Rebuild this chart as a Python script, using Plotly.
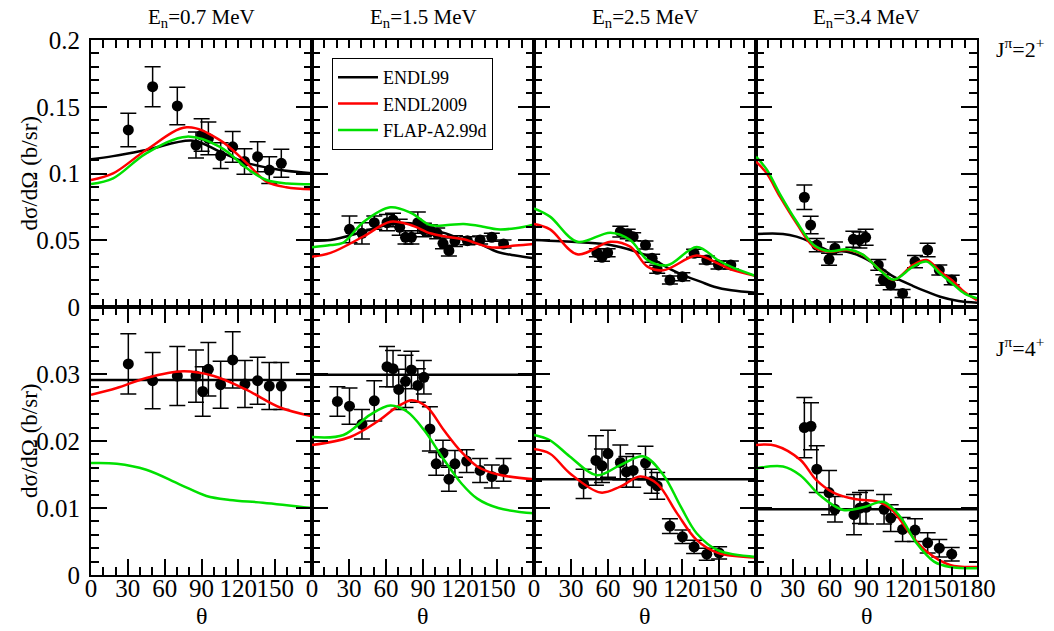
import plotly.graph_objects as go

# ---------------- data ----------------
energies = ["0.7", "1.5", "2.5", "3.4"]
legend_names = ["ENDL99", "ENDL2009", "FLAP-A2.99d"]

# ---- J=2+ (top row) ----
# panel 1 : 0.7 MeV
p1_exp_ang = [30.4, 50.2, 70.3, 85.5, 90.1, 95.6, 105.6, 115.4, 125, 135.7, 145.2, 155]
p1_exp_val = [0.1326, 0.165, 0.1506, 0.1213, 0.1288, 0.1263, 0.1134, 0.120, 0.109, 0.1126, 0.1026, 0.1076]
p1_exp_err = [0.0125, 0.015, 0.014, 0.0097, 0.0122, 0.0122, 0.0097, 0.0115, 0.0096, 0.0112, 0.010, 0.0105]
p1_b_ang = [0, 18, 45, 83, 105, 127, 152, 180]
p1_b_val = [0.1106, 0.1130, 0.1176, 0.1246, 0.1163, 0.108, 0.103, 0.1001]
p1_r_ang = [0, 18, 45, 78, 105, 127, 143, 159, 180]
p1_r_val = [0.0951, 0.1001, 0.1176, 0.1346, 0.125, 0.1076, 0.0939, 0.0897, 0.0882]
p1_g_ang = [0, 18, 45, 78, 105, 127, 143, 160, 180]
p1_g_val = [0.0921, 0.0964, 0.1151, 0.1276, 0.120, 0.1039, 0.0951, 0.0925, 0.0919]

# panel 2 : 1.5 MeV
p2_exp_ang = [30.4, 40.5, 50.5, 60.8, 65.7, 71.1, 75.8, 80.6, 85.8, 90.7, 95.6, 101.5, 106.2, 111.0, 115.9, 126, 136.3, 145.8, 155.3]
p2_exp_val = [0.0582, 0.0552, 0.0632, 0.0632, 0.0652, 0.0597, 0.0522, 0.0522, 0.0632, 0.0577, 0.0577, 0.0552, 0.0477, 0.0422, 0.0494, 0.0497, 0.0502, 0.0522, 0.0472]
p2_exp_err = [0.010, 0.008, 0.005, 0.006, 0.005, 0.006, 0.005, 0.005, 0.008, 0.005, 0.004, 0.004, 0.004, 0.004, 0.004, 0.003, 0.003, 0.003, 0.003]
p2_b_ang = [0, 15, 42, 63, 80, 96, 107, 123, 134, 150, 165, 180]
p2_b_val = [0.0497, 0.0502, 0.0565, 0.062, 0.0627, 0.0577, 0.0555, 0.0502, 0.048, 0.0414, 0.0385, 0.0365]
p2_r_ang = [0, 15, 42, 63.5, 80, 96, 107, 123, 142, 150, 165, 180]
p2_r_val = [0.0377, 0.0405, 0.053, 0.0639, 0.0614, 0.0552, 0.053, 0.0507, 0.0452, 0.0445, 0.046, 0.0472]
p2_g_ang = [0, 15, 25, 42, 63.5, 80, 96, 110, 123, 140, 150, 165, 180]
p2_g_val = [0.0447, 0.0464, 0.048, 0.0639, 0.0747, 0.0706, 0.0614, 0.0614, 0.0622, 0.060, 0.0582, 0.059, 0.0619]

# panel 3 : 2.5 MeV
p3_exp_ang = [51.0, 55.1, 59.7, 70.0, 76.0, 80.4, 90.4, 95.8, 99.9, 110.2, 120.3, 129.8, 140.1, 149.6, 159.6]
p3_exp_val = [0.0407, 0.0372, 0.0407, 0.0564, 0.0547, 0.0527, 0.0464, 0.0365, 0.0282, 0.0202, 0.0227, 0.0402, 0.0352, 0.0315, 0.0315]
p3_exp_err = [0.003, 0.003, 0.003, 0.004, 0.0035, 0.003, 0.003, 0.003, 0.003, 0.003, 0.003, 0.003, 0.003, 0.003, 0.003]
p3_b_ang = [0, 37, 62, 90, 110, 124, 135, 146, 160, 180]
p3_b_val = [0.0502, 0.0485, 0.0465, 0.039, 0.0285, 0.0227, 0.019, 0.0152, 0.0125, 0.0107]
p3_r_ang = [0, 13, 35, 62, 78, 92, 105, 132, 149, 160, 180]
p3_r_val = [0.0622, 0.0582, 0.0395, 0.0489, 0.0452, 0.0302, 0.0275, 0.0385, 0.0327, 0.028, 0.0232]
p3_g_ang = [0, 13, 35, 62, 78, 92, 108, 132, 149, 160, 180]
p3_g_val = [0.0739, 0.0677, 0.0489, 0.0557, 0.0502, 0.0352, 0.0312, 0.0450, 0.0352, 0.030, 0.0232]

# panel 4 : 3.4 MeV
p4_exp_ang = [39.4, 44.5, 49.5, 59.5, 64.3, 79.3, 84.2, 89.3, 99.6, 103.7, 109.7, 119.4, 129.5, 139.8, 149.3, 159.4]
p4_exp_val = [0.0822, 0.0614, 0.0464, 0.0357, 0.044, 0.0507, 0.0502, 0.0522, 0.0315, 0.0202, 0.0165, 0.0102, 0.034, 0.0427, 0.0277, 0.0202]
p4_exp_err = [0.0092, 0.0065, 0.005, 0.0045, 0.0047, 0.006, 0.006, 0.006, 0.004, 0.004, 0.0035, 0.003, 0.0046, 0.005, 0.0037, 0.0035]
p4_b_ang = [0, 22, 33, 47, 60, 74, 87, 101, 112, 128, 139, 150, 165, 180]
p4_b_val = [0.0547, 0.0547, 0.0527, 0.0477, 0.042, 0.0414, 0.0372, 0.0297, 0.0227, 0.0157, 0.0115, 0.0077, 0.0045, 0.0032]
p4_r_ang = [0, 8.7, 19.5, 33, 47, 60, 74, 87, 101, 112, 128, 139, 150, 160, 170, 180]
p4_r_val = [0.1089, 0.1001, 0.0826, 0.0627, 0.0452, 0.0414, 0.0427, 0.039, 0.0277, 0.0202, 0.0315, 0.0352, 0.0265, 0.0197, 0.011, 0.0052]
p4_g_ang = [0, 8.7, 19.5, 33, 47, 60, 74, 87, 101, 112, 128, 139, 150, 160, 170, 180]
p4_g_val = [0.1126, 0.1030, 0.0845, 0.064, 0.0465, 0.0418, 0.0432, 0.0392, 0.0275, 0.0205, 0.0302, 0.034, 0.025, 0.0175, 0.010, 0.0065]

# ---- J=4+ (bottom row) ----
# panel 5 : 0.7 MeV
p5_exp_ang = [30.4, 50.2, 70.3, 85.5, 91, 95.6, 105.6, 115.4, 125.4, 135.7, 145.2, 155]
p5_exp_val = [0.0315, 0.0290, 0.0297, 0.0297, 0.0274, 0.0307, 0.0284, 0.0321, 0.0285, 0.0290, 0.0282, 0.0282]
p5_exp_err = [0.0045, 0.0042, 0.0044, 0.0039, 0.0037, 0.004, 0.0035, 0.0042, 0.0035, 0.0035, 0.0035, 0.0035]
p5_b_ang = [0, 180]
p5_b_val = [0.0291, 0.0291]
p5_r_ang = [0, 21, 45, 75, 100, 126, 154, 180]
p5_r_val = [0.0269, 0.0279, 0.0294, 0.0304, 0.0297, 0.0277, 0.025, 0.0237]
p5_g_ang = [0, 21, 45, 72.5, 94, 113, 140, 180]
p5_g_val = [0.0167, 0.0166, 0.0157, 0.0135, 0.0118, 0.0112, 0.0108, 0.0100]

# panel 6 : 1.5 MeV
p6_exp_ang = [20.6, 30.4, 40.5, 50.5, 60.8, 65.7, 70.3, 75.8, 80.6, 85.8, 90.7, 95.6, 100.7, 106.2, 111, 115.9, 125.4, 136.3, 145.8, 155.3]
p6_exp_val = [0.0259, 0.0252, 0.0225, 0.026, 0.0311, 0.0308, 0.0277, 0.0289, 0.0306, 0.0283, 0.0295, 0.0218, 0.0166, 0.0182, 0.0143, 0.0166, 0.017, 0.0156, 0.0147, 0.0157]
p6_exp_err = [0.0022, 0.0027, 0.0022, 0.003, 0.003, 0.0027, 0.003, 0.0039, 0.0028, 0.0025, 0.0025, 0.0033, 0.0017, 0.0019, 0.0018, 0.002, 0.0017, 0.0018, 0.0017, 0.0017]
p6_b_ang = [0, 180]
p6_b_val = [0.0299, 0.0299]
p6_r_ang = [0, 31, 53, 69, 81, 93, 107, 121, 134, 151, 180]
p6_r_val = [0.0194, 0.0206, 0.0229, 0.0251, 0.0261, 0.0251, 0.0216, 0.0184, 0.0162, 0.015, 0.0143]
p6_g_ang = [0, 25.5, 47, 63.5, 77, 91, 107, 121, 134, 151, 180]
p6_g_val = [0.0206, 0.0209, 0.0239, 0.0253, 0.0244, 0.0216, 0.0172, 0.0137, 0.0114, 0.0100, 0.0092]

# panel 7 : 2.5 MeV
p7_exp_ang = [40.2, 50.2, 55.1, 60, 70, 74.9, 80.4, 90.4, 95.3, 99.9, 110.2, 120.3, 129.8, 140.1, 150.1]
p7_exp_val = [0.0136, 0.0171, 0.0163, 0.0181, 0.0168, 0.0154, 0.0156, 0.0167, 0.014, 0.0133, 0.0073, 0.0057, 0.0042, 0.0031, 0.0033]
p7_exp_err = [0.0022, 0.0037, 0.0025, 0.0035, 0.0026, 0.0023, 0.0025, 0.0025, 0.0018, 0.002, 0.0011, 0.001, 0.001, 0.0009, 0.0009]
p7_b_ang = [0, 180]
p7_b_val = [0.0143, 0.0143]
p7_r_ang = [0, 13, 29, 54, 70, 86, 100, 116, 132, 149, 180]
p7_r_val = [0.0188, 0.0181, 0.0152, 0.0123, 0.0132, 0.0147, 0.0136, 0.0092, 0.0052, 0.0033, 0.0026]
p7_g_ang = [0, 13, 29, 51, 70, 89, 105, 119, 132, 149, 180]
p7_g_val = [0.0209, 0.0201, 0.0177, 0.0149, 0.0164, 0.0177, 0.0149, 0.0102, 0.0062, 0.0037, 0.0027]

# panel 8 : 3.4 MeV
p8_exp_ang = [39.4, 44.8, 49.5, 59.5, 64.3, 79.8, 84.7, 89.6, 104.3, 109.7, 119.4, 129.5, 139.8, 149.3, 159.4]
p8_exp_val = [0.022, 0.0222, 0.0158, 0.0123, 0.0098, 0.009, 0.010, 0.0101, 0.0098, 0.0085, 0.0068, 0.0067, 0.0048, 0.004, 0.0031]
p8_exp_err = [0.0045, 0.0035, 0.0035, 0.0033, 0.0019, 0.003, 0.0023, 0.0025, 0.0022, 0.002, 0.0018, 0.0017, 0.0015, 0.0013, 0.001]
p8_b_ang = [0, 180]
p8_b_val = [0.0098, 0.0098]
p8_r_ang = [0, 16, 36, 49, 63, 81.5, 100.5, 111, 125, 139, 158, 180]
p8_r_val = [0.0194, 0.0193, 0.0172, 0.0142, 0.0123, 0.0113, 0.0109, 0.0097, 0.0063, 0.0035, 0.0015, 0.0012]
p8_g_ang = [0, 22, 36, 52, 71, 87.5, 104, 117, 131, 145, 158, 180]
p8_g_val = [0.0159, 0.0162, 0.0149, 0.0119, 0.0097, 0.0101, 0.0109, 0.0088, 0.0047, 0.002, 0.0012, 0.001]

panels = [
    (p1_exp_ang, p1_exp_val, p1_exp_err, p1_b_ang, p1_b_val, p1_r_ang, p1_r_val, p1_g_ang, p1_g_val),
    (p2_exp_ang, p2_exp_val, p2_exp_err, p2_b_ang, p2_b_val, p2_r_ang, p2_r_val, p2_g_ang, p2_g_val),
    (p3_exp_ang, p3_exp_val, p3_exp_err, p3_b_ang, p3_b_val, p3_r_ang, p3_r_val, p3_g_ang, p3_g_val),
    (p4_exp_ang, p4_exp_val, p4_exp_err, p4_b_ang, p4_b_val, p4_r_ang, p4_r_val, p4_g_ang, p4_g_val),
    (p5_exp_ang, p5_exp_val, p5_exp_err, p5_b_ang, p5_b_val, p5_r_ang, p5_r_val, p5_g_ang, p5_g_val),
    (p6_exp_ang, p6_exp_val, p6_exp_err, p6_b_ang, p6_b_val, p6_r_ang, p6_r_val, p6_g_ang, p6_g_val),
    (p7_exp_ang, p7_exp_val, p7_exp_err, p7_b_ang, p7_b_val, p7_r_ang, p7_r_val, p7_g_ang, p7_g_val),
    (p8_exp_ang, p8_exp_val, p8_exp_err, p8_b_ang, p8_b_val, p8_r_ang, p8_r_val, p8_g_ang, p8_g_val),
]

top_yticks = [0, 0.05, 0.1, 0.15, 0.2]
top_ylabels = ["0", "0.05", "0.1", "0.15", "0.2"]
bot_yticks = [0, 0.01, 0.02, 0.03, 0.04]
bot_ylabels = ["0", "0.01", "0.02", "0.03", ""]
x_ticks = [0, 30, 60, 90, 120, 150, 180]

# ---------------- layout geometry ----------------
W, H = 1054, 631
col_x = [91, 312, 534, 756, 977]
row_y = [(40, 307), (307, 575)]
FONT = "Liberation Serif"
colors = ["#000000", "#ff0000", "#00e000"]

fig = go.Figure()
layout = dict(template="none", width=W, height=H, autosize=False,
              margin=dict(l=0, r=0, t=0, b=0, pad=0),
              paper_bgcolor="white", plot_bgcolor="white", showlegend=True,
              font=dict(family=FONT, color="black", size=20))

for i in range(8):
    r, c = divmod(i, 4)
    n = i + 1
    xa = "xaxis" if n == 1 else f"xaxis{n}"
    ya = "yaxis" if n == 1 else f"yaxis{n}"
    xr = "x" if n == 1 else f"x{n}"
    yr = "y" if n == 1 else f"y{n}"
    x0, x1 = col_x[c], col_x[c + 1]
    yt, yb = row_y[r]
    bottom = r == 1
    xtt = [str(v) if (bottom and (v < 180 or c == 3)) else "" for v in x_ticks]
    layout[xa] = dict(domain=[x0 / W, x1 / W], range=[0, 180], anchor=yr, automargin=False,
                      showline=True, linecolor="black", linewidth=2, mirror="allticks",
                      ticks="inside", ticklen=16, tickwidth=2, tickcolor="black",
                      tickmode="array", tickvals=x_ticks, ticktext=xtt, tickangle=0,
                      showticklabels=bottom, ticklabelstandoff=-10,
                      minor=dict(ticks="inside", ticklen=8, tickwidth=1.5, tickcolor="black",
                                 tickmode="linear", tick0=0, dtick=10, showgrid=False),
                      showgrid=False, zeroline=False,
                      tickfont=dict(family=FONT, size=25, color="black"))
    if r == 0:
        ytv, ytt, yrng, mdt = top_yticks, top_ylabels, [0, 0.2], 0.01
    else:
        ytv, ytt, yrng, mdt = bot_yticks, bot_ylabels, [0, 0.04], 0.002
    layout[ya] = dict(domain=[1 - yb / H, 1 - yt / H], range=yrng, anchor=xr, automargin=False,
                      showline=True, linecolor="black", linewidth=2, mirror="allticks",
                      ticks="inside", ticklen=16, tickwidth=2, tickcolor="black",
                      tickmode="array", tickvals=ytv, ticktext=ytt, tickangle=0,
                      showticklabels=(c == 0), ticklabelstandoff=4,
                      minor=dict(ticks="inside", ticklen=8, tickwidth=1.5, tickcolor="black",
                                 tickmode="linear", tick0=0, dtick=mdt, showgrid=False),
                      showgrid=False, zeroline=False,
                      tickfont=dict(family=FONT, size=25, color="black"))

    ea, ev, ee, ba, bv, ra, rv, ga, gv = panels[i]
    fig.add_trace(go.Scatter(x=ea, y=ev, mode="markers", xaxis=xr, yaxis=yr,
                             marker=dict(color="black", size=11),
                             error_y=dict(type="data", array=ee, color="black", thickness=1.5, width=8),
                             showlegend=False))
    for k, (aa, vv) in enumerate([(ba, bv), (ra, rv), (ga, gv)]):
        fig.add_trace(go.Scatter(x=aa, y=vv, mode="lines", xaxis=xr, yaxis=yr,
                                 line=dict(color=colors[k], width=2.5, shape="spline", smoothing=1.0),
                                 name=legend_names[k], legendgroup=legend_names[k],
                                 showlegend=(i == 1)))

layout["legend"] = dict(x=332 / W, y=1 - 58 / H, xanchor="left", yanchor="top",
                        bordercolor="black", borderwidth=1, bgcolor="white",
                        font=dict(family=FONT, size=18, color="black"),
                        tracegroupgap=0, itemwidth=40)

ann = []
for c in range(4):
    cx = (col_x[c] + col_x[c + 1]) / 2
    ann.append(dict(x=cx / W, y=1 - 18 / H, xref="paper", yref="paper", showarrow=False,
                    xanchor="center", yanchor="middle",
                    text="E<sub>n</sub>=" + energies[c] + " MeV",
                    font=dict(family=FONT, size=21, color="black")))
    ann.append(dict(x=cx / W, y=1 - 616 / H, xref="paper", yref="paper", showarrow=False,
                    xanchor="center", yanchor="middle",
                    text="θ", font=dict(family=FONT, size=24, color="black")))
for r, ytxt in enumerate(["J<sup>π</sup>=2<sup>+</sup>", "J<sup>π</sup>=4<sup>+</sup>"]):
    ann.append(dict(x=1020 / W, y=1 - (48 if r == 0 else 347) / H, xref="paper", yref="paper",
                    showarrow=False, xanchor="center", yanchor="middle", text=ytxt,
                    font=dict(family=FONT, size=22, color="black")))
    yc = (row_y[r][0] + row_y[r][1]) / 2
    ann.append(dict(x=29 / W, y=1 - yc / H, xref="paper", yref="paper", showarrow=False,
                    xanchor="center", yanchor="middle",
                    text="dσ/dΩ (b/sr)", textangle=-90,
                    font=dict(family=FONT, size=23, color="black")))
layout["annotations"] = ann

fig.update_layout(**layout)
fig.write_html("out.html")
